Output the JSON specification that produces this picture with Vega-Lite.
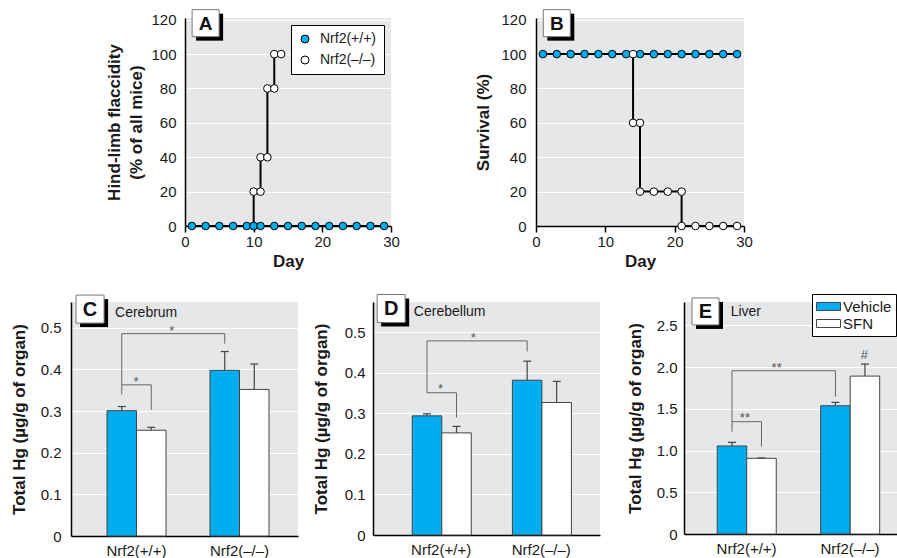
{
  "$schema": "https://vega.github.io/schema/vega-lite/v6.json",
  "padding": {"left": 10, "top": 7, "right": 0, "bottom": 0},
  "config": {
    "font": "Liberation Sans, Arial, sans-serif",
    "view": {"stroke": null, "fill": "#e6e7e9"},
    "axis": {
      "labelFont": "Liberation Sans, Arial, sans-serif",
      "titleFont": "Liberation Sans, Arial, sans-serif",
      "labelFontSize": 15, "titleFontSize": 17, "titleFontWeight": "bold",
      "labelColor": "#1a1a1a", "titleColor": "#1a1a1a",
      "domainColor": "#000000", "domainWidth": 1.5,
      "gridColor": "#ffffff", "gridWidth": 1.2,
      "ticks": false, "labelFlush": false, "labelOverlap": false
    },
    "axisX": {"grid": false},
    "legend": {"labelFont": "Liberation Sans, Arial, sans-serif", "labelFontSize": 14, "labelColor": "#1a1a1a"},
    "text": {"font": "Liberation Sans, Arial, sans-serif"}
  },
  "datasets": {
    "curves": [
      {"panel": "A", "genotype": "Nrf2(+/+)", "seq": 1, "day": 1, "pct": 0},
      {"panel": "A", "genotype": "Nrf2(+/+)", "seq": 2, "day": 3, "pct": 0},
      {"panel": "A", "genotype": "Nrf2(+/+)", "seq": 3, "day": 5, "pct": 0},
      {"panel": "A", "genotype": "Nrf2(+/+)", "seq": 4, "day": 7, "pct": 0},
      {"panel": "A", "genotype": "Nrf2(+/+)", "seq": 5, "day": 9, "pct": 0},
      {"panel": "A", "genotype": "Nrf2(+/+)", "seq": 6, "day": 10, "pct": 0},
      {"panel": "A", "genotype": "Nrf2(+/+)", "seq": 7, "day": 11, "pct": 0},
      {"panel": "A", "genotype": "Nrf2(+/+)", "seq": 8, "day": 13, "pct": 0},
      {"panel": "A", "genotype": "Nrf2(+/+)", "seq": 9, "day": 15, "pct": 0},
      {"panel": "A", "genotype": "Nrf2(+/+)", "seq": 10, "day": 17, "pct": 0},
      {"panel": "A", "genotype": "Nrf2(+/+)", "seq": 11, "day": 19, "pct": 0},
      {"panel": "A", "genotype": "Nrf2(+/+)", "seq": 12, "day": 21, "pct": 0},
      {"panel": "A", "genotype": "Nrf2(+/+)", "seq": 13, "day": 23, "pct": 0},
      {"panel": "A", "genotype": "Nrf2(+/+)", "seq": 14, "day": 25, "pct": 0},
      {"panel": "A", "genotype": "Nrf2(+/+)", "seq": 15, "day": 27, "pct": 0},
      {"panel": "A", "genotype": "Nrf2(+/+)", "seq": 16, "day": 29, "pct": 0},
      {"panel": "A", "genotype": "Nrf2(–/–)", "seq": 1, "day": 10, "pct": 0},
      {"panel": "A", "genotype": "Nrf2(–/–)", "seq": 2, "day": 10, "pct": 20},
      {"panel": "A", "genotype": "Nrf2(–/–)", "seq": 3, "day": 11, "pct": 20},
      {"panel": "A", "genotype": "Nrf2(–/–)", "seq": 4, "day": 11, "pct": 40},
      {"panel": "A", "genotype": "Nrf2(–/–)", "seq": 5, "day": 12, "pct": 40},
      {"panel": "A", "genotype": "Nrf2(–/–)", "seq": 6, "day": 12, "pct": 80},
      {"panel": "A", "genotype": "Nrf2(–/–)", "seq": 7, "day": 13, "pct": 80},
      {"panel": "A", "genotype": "Nrf2(–/–)", "seq": 8, "day": 13, "pct": 100},
      {"panel": "A", "genotype": "Nrf2(–/–)", "seq": 9, "day": 14, "pct": 100},
      {"panel": "B", "genotype": "Nrf2(+/+)", "seq": 1, "day": 1, "pct": 100},
      {"panel": "B", "genotype": "Nrf2(+/+)", "seq": 2, "day": 3, "pct": 100},
      {"panel": "B", "genotype": "Nrf2(+/+)", "seq": 3, "day": 5, "pct": 100},
      {"panel": "B", "genotype": "Nrf2(+/+)", "seq": 4, "day": 7, "pct": 100},
      {"panel": "B", "genotype": "Nrf2(+/+)", "seq": 5, "day": 9, "pct": 100},
      {"panel": "B", "genotype": "Nrf2(+/+)", "seq": 6, "day": 11, "pct": 100},
      {"panel": "B", "genotype": "Nrf2(+/+)", "seq": 7, "day": 13, "pct": 100},
      {"panel": "B", "genotype": "Nrf2(+/+)", "seq": 8, "day": 15, "pct": 100},
      {"panel": "B", "genotype": "Nrf2(+/+)", "seq": 9, "day": 17, "pct": 100},
      {"panel": "B", "genotype": "Nrf2(+/+)", "seq": 10, "day": 19, "pct": 100},
      {"panel": "B", "genotype": "Nrf2(+/+)", "seq": 11, "day": 21, "pct": 100},
      {"panel": "B", "genotype": "Nrf2(+/+)", "seq": 12, "day": 23, "pct": 100},
      {"panel": "B", "genotype": "Nrf2(+/+)", "seq": 13, "day": 25, "pct": 100},
      {"panel": "B", "genotype": "Nrf2(+/+)", "seq": 14, "day": 27, "pct": 100},
      {"panel": "B", "genotype": "Nrf2(+/+)", "seq": 15, "day": 29, "pct": 100},
      {"panel": "B", "genotype": "Nrf2(–/–)", "seq": 1, "day": 14, "pct": 100},
      {"panel": "B", "genotype": "Nrf2(–/–)", "seq": 2, "day": 14, "pct": 60},
      {"panel": "B", "genotype": "Nrf2(–/–)", "seq": 3, "day": 15, "pct": 60},
      {"panel": "B", "genotype": "Nrf2(–/–)", "seq": 4, "day": 15, "pct": 20},
      {"panel": "B", "genotype": "Nrf2(–/–)", "seq": 5, "day": 17, "pct": 20},
      {"panel": "B", "genotype": "Nrf2(–/–)", "seq": 6, "day": 19, "pct": 20},
      {"panel": "B", "genotype": "Nrf2(–/–)", "seq": 7, "day": 21, "pct": 20},
      {"panel": "B", "genotype": "Nrf2(–/–)", "seq": 8, "day": 21, "pct": 0},
      {"panel": "B", "genotype": "Nrf2(–/–)", "seq": 9, "day": 23, "pct": 0},
      {"panel": "B", "genotype": "Nrf2(–/–)", "seq": 10, "day": 25, "pct": 0},
      {"panel": "B", "genotype": "Nrf2(–/–)", "seq": 11, "day": 27, "pct": 0},
      {"panel": "B", "genotype": "Nrf2(–/–)", "seq": 12, "day": 29, "pct": 0}
    ],
    "hg": [
      {"panel": "C", "genotype": "Nrf2(+/+)", "treatment": "Vehicle", "mean": 0.301, "upper": 0.311},
      {"panel": "C", "genotype": "Nrf2(+/+)", "treatment": "SFN", "mean": 0.254, "upper": 0.261},
      {"panel": "C", "genotype": "Nrf2(–/–)", "treatment": "Vehicle", "mean": 0.398, "upper": 0.443},
      {"panel": "C", "genotype": "Nrf2(–/–)", "treatment": "SFN", "mean": 0.352, "upper": 0.413},
      {"panel": "D", "genotype": "Nrf2(+/+)", "treatment": "Vehicle", "mean": 0.294, "upper": 0.299},
      {"panel": "D", "genotype": "Nrf2(+/+)", "treatment": "SFN", "mean": 0.252, "upper": 0.268},
      {"panel": "D", "genotype": "Nrf2(–/–)", "treatment": "Vehicle", "mean": 0.382, "upper": 0.429},
      {"panel": "D", "genotype": "Nrf2(–/–)", "treatment": "SFN", "mean": 0.327, "upper": 0.379},
      {"panel": "E", "genotype": "Nrf2(+/+)", "treatment": "Vehicle", "mean": 1.055, "upper": 1.098},
      {"panel": "E", "genotype": "Nrf2(+/+)", "treatment": "SFN", "mean": 0.907, "upper": 0.911},
      {"panel": "E", "genotype": "Nrf2(–/–)", "treatment": "Vehicle", "mean": 1.537, "upper": 1.577},
      {"panel": "E", "genotype": "Nrf2(–/–)", "treatment": "SFN", "mean": 1.892, "upper": 2.036}
    ],
    "brackets": [
      {"panel": "C", "bracket": "big", "seq": 1, "genotype": "Nrf2(+/+)", "treatment": "Vehicle", "value": 0.340},
      {"panel": "C", "bracket": "big", "seq": 2, "genotype": "Nrf2(+/+)", "treatment": "Vehicle", "value": 0.486},
      {"panel": "C", "bracket": "big", "seq": 3, "genotype": "Nrf2(–/–)", "treatment": "Vehicle", "value": 0.486},
      {"panel": "C", "bracket": "big", "seq": 4, "genotype": "Nrf2(–/–)", "treatment": "Vehicle", "value": 0.462},
      {"panel": "C", "bracket": "small", "seq": 1, "genotype": "Nrf2(+/+)", "treatment": "Vehicle", "value": 0.363},
      {"panel": "C", "bracket": "small", "seq": 2, "genotype": "Nrf2(+/+)", "treatment": "SFN", "value": 0.363},
      {"panel": "C", "bracket": "small", "seq": 3, "genotype": "Nrf2(+/+)", "treatment": "SFN", "value": 0.303},
      {"panel": "D", "bracket": "big", "seq": 1, "genotype": "Nrf2(+/+)", "treatment": "Vehicle", "value": 0.351},
      {"panel": "D", "bracket": "big", "seq": 2, "genotype": "Nrf2(+/+)", "treatment": "Vehicle", "value": 0.479},
      {"panel": "D", "bracket": "big", "seq": 3, "genotype": "Nrf2(–/–)", "treatment": "Vehicle", "value": 0.479},
      {"panel": "D", "bracket": "big", "seq": 4, "genotype": "Nrf2(–/–)", "treatment": "Vehicle", "value": 0.453},
      {"panel": "D", "bracket": "small", "seq": 1, "genotype": "Nrf2(+/+)", "treatment": "Vehicle", "value": 0.351},
      {"panel": "D", "bracket": "small", "seq": 2, "genotype": "Nrf2(+/+)", "treatment": "SFN", "value": 0.351},
      {"panel": "D", "bracket": "small", "seq": 3, "genotype": "Nrf2(+/+)", "treatment": "SFN", "value": 0.290},
      {"panel": "E", "bracket": "big", "seq": 1, "genotype": "Nrf2(+/+)", "treatment": "Vehicle", "value": 1.226},
      {"panel": "E", "bracket": "big", "seq": 2, "genotype": "Nrf2(+/+)", "treatment": "Vehicle", "value": 1.956},
      {"panel": "E", "bracket": "big", "seq": 3, "genotype": "Nrf2(–/–)", "treatment": "Vehicle", "value": 1.956},
      {"panel": "E", "bracket": "big", "seq": 4, "genotype": "Nrf2(–/–)", "treatment": "Vehicle", "value": 1.645},
      {"panel": "E", "bracket": "small", "seq": 1, "genotype": "Nrf2(+/+)", "treatment": "Vehicle", "value": 1.346},
      {"panel": "E", "bracket": "small", "seq": 2, "genotype": "Nrf2(+/+)", "treatment": "SFN", "value": 1.346},
      {"panel": "E", "bracket": "small", "seq": 3, "genotype": "Nrf2(+/+)", "treatment": "SFN", "value": 1.047}
    ],
    "notes": [
      {"panel": "C", "kind": "box", "text": "C", "fx": 0.084, "y": 0.545},
      {"panel": "C", "kind": "name", "text": "Cerebrum", "fx": 0.194, "y": 0.535},
      {"panel": "C", "kind": "sig", "text": "*", "fx": 0.4436, "y": 0.493},
      {"panel": "C", "kind": "sig", "text": "*", "fx": 0.2863, "y": 0.370},
      {"panel": "D", "kind": "box", "text": "D", "fx": 0.080, "y": 0.559},
      {"panel": "D", "kind": "name", "text": "Cerebellum", "fx": 0.180, "y": 0.551},
      {"panel": "D", "kind": "sig", "text": "*", "fx": 0.4415, "y": 0.486},
      {"panel": "D", "kind": "sig", "text": "*", "fx": 0.2977, "y": 0.361},
      {"panel": "E", "kind": "box", "text": "E", "fx": 0.101, "y": 2.667},
      {"panel": "E", "kind": "name", "text": "Liver", "fx": 0.219, "y": 2.66},
      {"panel": "E", "kind": "sig", "text": "**", "fx": 0.435, "y": 1.995},
      {"panel": "E", "kind": "sig", "text": "**", "fx": 0.286, "y": 1.39},
      {"panel": "E", "kind": "sig", "text": "#", "fx": 0.8465, "y": 2.14}
    ]
  },
  "spacing": 23,
  "resolve": {"scale": {"fill": "independent"}, "legend": {"fill": "independent"}},
  "vconcat": [
    {
      "spacing": 33,
      "resolve": {"scale": {"fill": "independent"}, "legend": {"fill": "independent"}},
      "hconcat": [
        {
          "width": 1, "height": 10,
          "view": {"fill": null, "stroke": null},
          "data": {"values": [{"blank": ""}]},
          "mark": {"type": "text", "opacity": 0},
          "encoding": {"text": {"field": "blank"}}
        },
        {
          "spacing": 74,
          "resolve": {"scale": {"fill": "independent"}, "legend": {"fill": "independent"}},
          "hconcat": [
            {
              "width": 206, "height": 208,
              "layer": [
                {
                  "data": {"name": "curves"},
                  "transform": [{"filter": "datum.panel == 'A'"}],
                  "mark": {"type": "line", "color": "#000", "strokeWidth": 2},
                  "encoding": {
                    "x": {"field": "day", "type": "quantitative", "scale": {"domain": [0, 30], "nice": false}, "axis": {"values": [0, 10, 20, 30], "ticks": true, "tickSize": 6, "tickColor": "#000", "tickWidth": 1.5, "labelPadding": 2, "title": "Day", "titlePadding": 4}},
                    "y": {"field": "pct", "type": "quantitative", "scale": {"domain": [0, 121], "nice": false}, "axis": {"values": [0, 20, 40, 60, 80, 100, 120], "title": ["Hind-limb flaccidity", "(% of all mice)"], "labelPadding": 9, "titlePadding": 5, "titleLineHeight": 22}},
                    "detail": {"field": "genotype"}, "order": {"field": "seq"}
                  }
                },
                {
                  "data": {"name": "curves"},
                  "transform": [{"filter": "datum.panel == 'A' && datum.genotype == 'Nrf2(–/–)'"}],
                  "mark": {"type": "point", "filled": true, "size": 58, "stroke": "#000", "strokeWidth": 1, "opacity": 1},
                  "encoding": {
                    "x": {"field": "day", "type": "quantitative", "scale": {"domain": [0, 30], "nice": false}, "axis": {"values": [0, 10, 20, 30], "ticks": true, "tickSize": 6, "tickColor": "#000", "tickWidth": 1.5, "labelPadding": 2, "title": "Day", "titlePadding": 4}},
                    "y": {"field": "pct", "type": "quantitative", "scale": {"domain": [0, 121], "nice": false}, "axis": {"values": [0, 20, 40, 60, 80, 100, 120], "title": ["Hind-limb flaccidity", "(% of all mice)"], "labelPadding": 9, "titlePadding": 5, "titleLineHeight": 22}},
                    "fill": {"field": "genotype", "type": "nominal", "scale": {"domain": ["Nrf2(+/+)", "Nrf2(–/–)"], "range": ["#00AEEF", "#ffffff"]},
                      "legend": {"orient": "top-right", "offset": 7, "title": null, "fillColor": "#ffffff", "strokeColor": "#000", "padding": 7, "labelFontSize": 14, "symbolSize": 64, "symbolType": "circle", "symbolStrokeColor": "#000", "symbolStrokeWidth": 1, "rowPadding": 7, "labelOffset": 8}}
                  }
                },
                {
                  "data": {"name": "curves"},
                  "transform": [{"filter": "datum.panel == 'A' && datum.genotype == 'Nrf2(+/+)'"}],
                  "mark": {"type": "point", "filled": true, "size": 58, "stroke": "#000", "strokeWidth": 1, "opacity": 1},
                  "encoding": {
                    "x": {"field": "day", "type": "quantitative", "scale": {"domain": [0, 30], "nice": false}, "axis": {"values": [0, 10, 20, 30], "ticks": true, "tickSize": 6, "tickColor": "#000", "tickWidth": 1.5, "labelPadding": 2, "title": "Day", "titlePadding": 4}},
                    "y": {"field": "pct", "type": "quantitative", "scale": {"domain": [0, 121], "nice": false}, "axis": {"values": [0, 20, 40, 60, 80, 100, 120], "title": ["Hind-limb flaccidity", "(% of all mice)"], "labelPadding": 9, "titlePadding": 5, "titleLineHeight": 22}},
                    "fill": {"field": "genotype", "type": "nominal", "scale": {"domain": ["Nrf2(+/+)", "Nrf2(–/–)"], "range": ["#00AEEF", "#ffffff"]},
                      "legend": {"orient": "top-right", "offset": 7, "title": null, "fillColor": "#ffffff", "strokeColor": "#000", "padding": 7, "labelFontSize": 14, "symbolSize": 64, "symbolType": "circle", "symbolStrokeColor": "#000", "symbolStrokeWidth": 1, "rowPadding": 7, "labelOffset": 8}}
                  }
                },
                {
                  "data": {"values": [{"text": "A"}]},
                  "mark": {"type": "point", "shape": "square", "size": 729, "filled": true, "fill": "#000", "opacity": 1, "xOffset": 4, "yOffset": 4},
                  "encoding": {
                    "x": {"datum": 3, "type": "quantitative", "scale": {"domain": [0, 30], "nice": false}, "axis": {"values": [0, 10, 20, 30], "ticks": true, "tickSize": 6, "tickColor": "#000", "tickWidth": 1.5, "labelPadding": 2, "title": "Day", "titlePadding": 4}},
                    "y": {"datum": 118, "type": "quantitative", "scale": {"domain": [0, 121], "nice": false}, "axis": {"values": [0, 20, 40, 60, 80, 100, 120], "title": ["Hind-limb flaccidity", "(% of all mice)"], "labelPadding": 9, "titlePadding": 5, "titleLineHeight": 22}}
                  }
                },
                {
                  "data": {"values": [{"text": "A"}]},
                  "mark": {"type": "point", "shape": "square", "size": 729, "filled": true, "fill": "#fff", "stroke": "#777", "strokeWidth": 1, "opacity": 1},
                  "encoding": {
                    "x": {"datum": 3, "type": "quantitative", "scale": {"domain": [0, 30], "nice": false}, "axis": {"values": [0, 10, 20, 30], "ticks": true, "tickSize": 6, "tickColor": "#000", "tickWidth": 1.5, "labelPadding": 2, "title": "Day", "titlePadding": 4}},
                    "y": {"datum": 118, "type": "quantitative", "scale": {"domain": [0, 121], "nice": false}, "axis": {"values": [0, 20, 40, 60, 80, 100, 120], "title": ["Hind-limb flaccidity", "(% of all mice)"], "labelPadding": 9, "titlePadding": 5, "titleLineHeight": 22}}
                  }
                },
                {
                  "data": {"values": [{"text": "A"}]},
                  "mark": {"type": "text", "fontSize": 19, "fontWeight": "bold", "color": "#111", "baseline": "middle", "align": "center", "dy": 1},
                  "encoding": {
                    "x": {"datum": 3, "type": "quantitative", "scale": {"domain": [0, 30], "nice": false}, "axis": {"values": [0, 10, 20, 30], "ticks": true, "tickSize": 6, "tickColor": "#000", "tickWidth": 1.5, "labelPadding": 2, "title": "Day", "titlePadding": 4}},
                    "y": {"datum": 118, "type": "quantitative", "scale": {"domain": [0, 121], "nice": false}, "axis": {"values": [0, 20, 40, 60, 80, 100, 120], "title": ["Hind-limb flaccidity", "(% of all mice)"], "labelPadding": 9, "titlePadding": 5, "titleLineHeight": 22}},
                    "text": {"field": "text"}
                  }
                }
              ]
            },
            {
              "width": 208, "height": 208,
              "layer": [
                {
                  "data": {"name": "curves"},
                  "transform": [{"filter": "datum.panel == 'B'"}],
                  "mark": {"type": "line", "color": "#000", "strokeWidth": 2},
                  "encoding": {
                    "x": {"field": "day", "type": "quantitative", "scale": {"domain": [0, 30], "nice": false}, "axis": {"values": [0, 10, 20, 30], "ticks": true, "tickSize": 6, "tickColor": "#000", "tickWidth": 1.5, "labelPadding": 2, "title": "Day", "titlePadding": 4}},
                    "y": {"field": "pct", "type": "quantitative", "scale": {"domain": [0, 121], "nice": false}, "axis": {"values": [0, 20, 40, 60, 80, 100, 120], "title": "Survival (%)", "labelPadding": 10, "titlePadding": 8}},
                    "detail": {"field": "genotype"}, "order": {"field": "seq"}
                  }
                },
                {
                  "data": {"name": "curves"},
                  "transform": [{"filter": "datum.panel == 'B' && datum.genotype == 'Nrf2(+/+)'"}],
                  "mark": {"type": "point", "filled": true, "size": 58, "stroke": "#000", "strokeWidth": 1, "opacity": 1},
                  "encoding": {
                    "x": {"field": "day", "type": "quantitative", "scale": {"domain": [0, 30], "nice": false}, "axis": {"values": [0, 10, 20, 30], "ticks": true, "tickSize": 6, "tickColor": "#000", "tickWidth": 1.5, "labelPadding": 2, "title": "Day", "titlePadding": 4}},
                    "y": {"field": "pct", "type": "quantitative", "scale": {"domain": [0, 121], "nice": false}, "axis": {"values": [0, 20, 40, 60, 80, 100, 120], "title": "Survival (%)", "labelPadding": 10, "titlePadding": 8}},
                    "fill": {"field": "genotype", "type": "nominal", "scale": {"domain": ["Nrf2(+/+)", "Nrf2(–/–)"], "range": ["#00AEEF", "#ffffff"]}, "legend": null}
                  }
                },
                {
                  "data": {"name": "curves"},
                  "transform": [{"filter": "datum.panel == 'B' && datum.genotype == 'Nrf2(–/–)'"}],
                  "mark": {"type": "point", "filled": true, "size": 58, "stroke": "#000", "strokeWidth": 1, "opacity": 1},
                  "encoding": {
                    "x": {"field": "day", "type": "quantitative", "scale": {"domain": [0, 30], "nice": false}, "axis": {"values": [0, 10, 20, 30], "ticks": true, "tickSize": 6, "tickColor": "#000", "tickWidth": 1.5, "labelPadding": 2, "title": "Day", "titlePadding": 4}},
                    "y": {"field": "pct", "type": "quantitative", "scale": {"domain": [0, 121], "nice": false}, "axis": {"values": [0, 20, 40, 60, 80, 100, 120], "title": "Survival (%)", "labelPadding": 10, "titlePadding": 8}},
                    "fill": {"field": "genotype", "type": "nominal", "scale": {"domain": ["Nrf2(+/+)", "Nrf2(–/–)"], "range": ["#00AEEF", "#ffffff"]}, "legend": null}
                  }
                },
                {
                  "data": {"values": [{"text": "B"}]},
                  "mark": {"type": "point", "shape": "square", "size": 729, "filled": true, "fill": "#000", "opacity": 1, "xOffset": 4, "yOffset": 4},
                  "encoding": {
                    "x": {"datum": 3, "type": "quantitative", "scale": {"domain": [0, 30], "nice": false}, "axis": {"values": [0, 10, 20, 30], "ticks": true, "tickSize": 6, "tickColor": "#000", "tickWidth": 1.5, "labelPadding": 2, "title": "Day", "titlePadding": 4}},
                    "y": {"datum": 118, "type": "quantitative", "scale": {"domain": [0, 121], "nice": false}, "axis": {"values": [0, 20, 40, 60, 80, 100, 120], "title": "Survival (%)", "labelPadding": 10, "titlePadding": 8}}
                  }
                },
                {
                  "data": {"values": [{"text": "B"}]},
                  "mark": {"type": "point", "shape": "square", "size": 729, "filled": true, "fill": "#fff", "stroke": "#777", "strokeWidth": 1, "opacity": 1},
                  "encoding": {
                    "x": {"datum": 3, "type": "quantitative", "scale": {"domain": [0, 30], "nice": false}, "axis": {"values": [0, 10, 20, 30], "ticks": true, "tickSize": 6, "tickColor": "#000", "tickWidth": 1.5, "labelPadding": 2, "title": "Day", "titlePadding": 4}},
                    "y": {"datum": 118, "type": "quantitative", "scale": {"domain": [0, 121], "nice": false}, "axis": {"values": [0, 20, 40, 60, 80, 100, 120], "title": "Survival (%)", "labelPadding": 10, "titlePadding": 8}}
                  }
                },
                {
                  "data": {"values": [{"text": "B"}]},
                  "mark": {"type": "text", "fontSize": 19, "fontWeight": "bold", "color": "#111", "baseline": "middle", "align": "center", "dy": 1},
                  "encoding": {
                    "x": {"datum": 3, "type": "quantitative", "scale": {"domain": [0, 30], "nice": false}, "axis": {"values": [0, 10, 20, 30], "ticks": true, "tickSize": 6, "tickColor": "#000", "tickWidth": 1.5, "labelPadding": 2, "title": "Day", "titlePadding": 4}},
                    "y": {"datum": 118, "type": "quantitative", "scale": {"domain": [0, 121], "nice": false}, "axis": {"values": [0, 20, 40, 60, 80, 100, 120], "title": "Survival (%)", "labelPadding": 10, "titlePadding": 8}},
                    "text": {"field": "text"}
                  }
                }
              ]
            }
          ]
        }
      ]
    },
    {
      "spacing": 26,
      "resolve": {"scale": {"fill": "independent"}, "legend": {"fill": "independent"}},
      "hconcat": [
        {
          "spacing": 14,
          "resolve": {"scale": {"fill": "independent"}, "legend": {"fill": "independent"}},
          "hconcat": [
            {
              "width": 227, "height": 234,
              "resolve": {"scale": {"x": "independent"}},
              "layer": [
                {
                  "data": {"name": "hg"},
                  "transform": [{"filter": "datum.panel == 'C'"}],
                  "mark": {"type": "bar", "stroke": "#444", "strokeWidth": 1},
                  "encoding": {
                    "x": {"field": "genotype", "type": "nominal", "scale": {"domain": ["Nrf2(+/+)", "Nrf2(–/–)"], "paddingInner": 0.427, "paddingOuter": 0.3155, "align": 0.554}, "axis": {"title": null, "labelAngle": 0, "labelPadding": 7, "domain": true}},
                    "xOffset": {"field": "treatment", "type": "nominal", "scale": {"domain": ["Vehicle", "SFN"], "paddingInner": 0, "paddingOuter": 0}},
                    "y": {"field": "mean", "type": "quantitative", "scale": {"domain": [0, 0.562], "nice": false}, "axis": {"values": [0, 0.1, 0.2, 0.3, 0.4, 0.5], "labelExpr": "datum.value == 0 ? '0' : format(datum.value, '.1f')", "title": "Total Hg (µg/g of organ)", "labelPadding": 10, "titlePadding": 12}},
                    "fill": {"field": "treatment", "type": "nominal", "scale": {"domain": ["Vehicle", "SFN"], "range": ["#00AEEF", "#ffffff"]}, "legend": null}
                  }
                },
                {
                  "data": {"name": "hg"},
                  "transform": [{"filter": "datum.panel == 'C'"}],
                  "mark": {"type": "rule", "color": "#444", "strokeWidth": 1.2},
                  "encoding": {
                    "x": {"field": "genotype", "type": "nominal", "scale": {"domain": ["Nrf2(+/+)", "Nrf2(–/–)"], "paddingInner": 0.427, "paddingOuter": 0.3155, "align": 0.554}, "axis": null},
                    "xOffset": {"field": "treatment", "type": "nominal", "scale": {"domain": ["Vehicle", "SFN"], "paddingInner": 0, "paddingOuter": 0}},
                    "y": {"field": "mean", "type": "quantitative", "scale": {"domain": [0, 0.562], "nice": false}, "axis": {"values": [0, 0.1, 0.2, 0.3, 0.4, 0.5], "labelExpr": "datum.value == 0 ? '0' : format(datum.value, '.1f')", "title": "Total Hg (µg/g of organ)", "labelPadding": 10, "titlePadding": 12}},
                    "y2": {"field": "upper"}
                  }
                },
                {
                  "data": {"name": "hg"},
                  "transform": [{"filter": "datum.panel == 'C'"}],
                  "mark": {"type": "tick", "color": "#444", "size": 8, "thickness": 1.2, "opacity": 1},
                  "encoding": {
                    "x": {"field": "genotype", "type": "nominal", "scale": {"domain": ["Nrf2(+/+)", "Nrf2(–/–)"], "paddingInner": 0.427, "paddingOuter": 0.3155, "align": 0.554}, "axis": null},
                    "xOffset": {"field": "treatment", "type": "nominal", "scale": {"domain": ["Vehicle", "SFN"], "paddingInner": 0, "paddingOuter": 0}},
                    "y": {"field": "upper", "type": "quantitative", "scale": {"domain": [0, 0.562], "nice": false}, "axis": {"values": [0, 0.1, 0.2, 0.3, 0.4, 0.5], "labelExpr": "datum.value == 0 ? '0' : format(datum.value, '.1f')", "title": "Total Hg (µg/g of organ)", "labelPadding": 10, "titlePadding": 12}}
                  }
                },
                {
                  "data": {"name": "brackets"},
                  "transform": [{"filter": "datum.panel == 'C'"}],
                  "mark": {"type": "line", "color": "#666", "strokeWidth": 1},
                  "encoding": {
                    "x": {"field": "genotype", "type": "nominal", "scale": {"domain": ["Nrf2(+/+)", "Nrf2(–/–)"], "paddingInner": 0.427, "paddingOuter": 0.3155, "align": 0.554}, "axis": null},
                    "xOffset": {"field": "treatment", "type": "nominal", "scale": {"domain": ["Vehicle", "SFN"], "paddingInner": 0, "paddingOuter": 0}},
                    "y": {"field": "value", "type": "quantitative", "scale": {"domain": [0, 0.562], "nice": false}, "axis": {"values": [0, 0.1, 0.2, 0.3, 0.4, 0.5], "labelExpr": "datum.value == 0 ? '0' : format(datum.value, '.1f')", "title": "Total Hg (µg/g of organ)", "labelPadding": 10, "titlePadding": 12}},
                    "detail": {"field": "bracket"}, "order": {"field": "seq"}
                  }
                },
                {
                  "data": {"name": "notes"},
                  "transform": [{"filter": "datum.panel == 'C'"}],
                  "encoding": {
                    "x": {"field": "fx", "type": "quantitative", "scale": {"domain": [0, 1], "nice": false}, "axis": null},
                    "y": {"field": "y", "type": "quantitative", "scale": {"domain": [0, 0.562], "nice": false}, "axis": {"values": [0, 0.1, 0.2, 0.3, 0.4, 0.5], "labelExpr": "datum.value == 0 ? '0' : format(datum.value, '.1f')", "title": "Total Hg (µg/g of organ)", "labelPadding": 10, "titlePadding": 12}}
                  },
                  "layer": [
                    {"transform": [{"filter": "datum.kind == 'box'"}], "mark": {"type": "point", "shape": "square", "size": 784, "filled": true, "fill": "#000", "opacity": 1, "xOffset": 4, "yOffset": 4}},
                    {"transform": [{"filter": "datum.kind == 'box'"}], "mark": {"type": "point", "shape": "square", "size": 784, "filled": true, "fill": "#fff", "stroke": "#777", "strokeWidth": 1, "opacity": 1}},
                    {"transform": [{"filter": "datum.kind == 'box'"}], "mark": {"type": "text", "fontSize": 20, "fontWeight": "bold", "color": "#111", "dy": 1}, "encoding": {"text": {"field": "text"}}},
                    {"transform": [{"filter": "datum.kind == 'name'"}], "mark": {"type": "text", "fontSize": 14, "align": "left", "color": "#1a1a1a"}, "encoding": {"text": {"field": "text"}}},
                    {"transform": [{"filter": "datum.kind == 'sig'"}], "mark": {"type": "text", "fontSize": 13, "align": "center", "color": "#555"}, "encoding": {"text": {"field": "text"}}}
                  ]
                }
              ]
            },
            {
              "width": 227, "height": 233,
              "resolve": {"scale": {"x": "independent"}},
              "layer": [
                {
                  "data": {"name": "hg"},
                  "transform": [{"filter": "datum.panel == 'D'"}],
                  "mark": {"type": "bar", "stroke": "#444", "strokeWidth": 1},
                  "encoding": {
                    "x": {"field": "genotype", "type": "nominal", "scale": {"domain": ["Nrf2(+/+)", "Nrf2(–/–)"], "paddingInner": 0.4235, "paddingOuter": 0.345, "align": 0.568}, "axis": {"title": null, "labelAngle": 0, "labelPadding": 7, "domain": true}},
                    "xOffset": {"field": "treatment", "type": "nominal", "scale": {"domain": ["Vehicle", "SFN"], "paddingInner": 0, "paddingOuter": 0}},
                    "y": {"field": "mean", "type": "quantitative", "scale": {"domain": [0, 0.575], "nice": false}, "axis": {"values": [0, 0.1, 0.2, 0.3, 0.4, 0.5], "labelExpr": "datum.value == 0 ? '0' : format(datum.value, '.1f')", "title": "Total Hg (µg/g of organ)", "labelPadding": 8, "titlePadding": 14}},
                    "fill": {"field": "treatment", "type": "nominal", "scale": {"domain": ["Vehicle", "SFN"], "range": ["#00AEEF", "#ffffff"]}, "legend": null}
                  }
                },
                {
                  "data": {"name": "hg"},
                  "transform": [{"filter": "datum.panel == 'D'"}],
                  "mark": {"type": "rule", "color": "#444", "strokeWidth": 1.2},
                  "encoding": {
                    "x": {"field": "genotype", "type": "nominal", "scale": {"domain": ["Nrf2(+/+)", "Nrf2(–/–)"], "paddingInner": 0.4235, "paddingOuter": 0.345, "align": 0.568}, "axis": null},
                    "xOffset": {"field": "treatment", "type": "nominal", "scale": {"domain": ["Vehicle", "SFN"], "paddingInner": 0, "paddingOuter": 0}},
                    "y": {"field": "mean", "type": "quantitative", "scale": {"domain": [0, 0.575], "nice": false}, "axis": {"values": [0, 0.1, 0.2, 0.3, 0.4, 0.5], "labelExpr": "datum.value == 0 ? '0' : format(datum.value, '.1f')", "title": "Total Hg (µg/g of organ)", "labelPadding": 8, "titlePadding": 14}},
                    "y2": {"field": "upper"}
                  }
                },
                {
                  "data": {"name": "hg"},
                  "transform": [{"filter": "datum.panel == 'D'"}],
                  "mark": {"type": "tick", "color": "#444", "size": 8, "thickness": 1.2, "opacity": 1},
                  "encoding": {
                    "x": {"field": "genotype", "type": "nominal", "scale": {"domain": ["Nrf2(+/+)", "Nrf2(–/–)"], "paddingInner": 0.4235, "paddingOuter": 0.345, "align": 0.568}, "axis": null},
                    "xOffset": {"field": "treatment", "type": "nominal", "scale": {"domain": ["Vehicle", "SFN"], "paddingInner": 0, "paddingOuter": 0}},
                    "y": {"field": "upper", "type": "quantitative", "scale": {"domain": [0, 0.575], "nice": false}, "axis": {"values": [0, 0.1, 0.2, 0.3, 0.4, 0.5], "labelExpr": "datum.value == 0 ? '0' : format(datum.value, '.1f')", "title": "Total Hg (µg/g of organ)", "labelPadding": 8, "titlePadding": 14}}
                  }
                },
                {
                  "data": {"name": "brackets"},
                  "transform": [{"filter": "datum.panel == 'D'"}],
                  "mark": {"type": "line", "color": "#666", "strokeWidth": 1},
                  "encoding": {
                    "x": {"field": "genotype", "type": "nominal", "scale": {"domain": ["Nrf2(+/+)", "Nrf2(–/–)"], "paddingInner": 0.4235, "paddingOuter": 0.345, "align": 0.568}, "axis": null},
                    "xOffset": {"field": "treatment", "type": "nominal", "scale": {"domain": ["Vehicle", "SFN"], "paddingInner": 0, "paddingOuter": 0}},
                    "y": {"field": "value", "type": "quantitative", "scale": {"domain": [0, 0.575], "nice": false}, "axis": {"values": [0, 0.1, 0.2, 0.3, 0.4, 0.5], "labelExpr": "datum.value == 0 ? '0' : format(datum.value, '.1f')", "title": "Total Hg (µg/g of organ)", "labelPadding": 8, "titlePadding": 14}},
                    "detail": {"field": "bracket"}, "order": {"field": "seq"}
                  }
                },
                {
                  "data": {"name": "notes"},
                  "transform": [{"filter": "datum.panel == 'D'"}],
                  "encoding": {
                    "x": {"field": "fx", "type": "quantitative", "scale": {"domain": [0, 1], "nice": false}, "axis": null},
                    "y": {"field": "y", "type": "quantitative", "scale": {"domain": [0, 0.575], "nice": false}, "axis": {"values": [0, 0.1, 0.2, 0.3, 0.4, 0.5], "labelExpr": "datum.value == 0 ? '0' : format(datum.value, '.1f')", "title": "Total Hg (µg/g of organ)", "labelPadding": 8, "titlePadding": 14}}
                  },
                  "layer": [
                    {"transform": [{"filter": "datum.kind == 'box'"}], "mark": {"type": "point", "shape": "square", "size": 784, "filled": true, "fill": "#000", "opacity": 1, "xOffset": 4, "yOffset": 4}},
                    {"transform": [{"filter": "datum.kind == 'box'"}], "mark": {"type": "point", "shape": "square", "size": 784, "filled": true, "fill": "#fff", "stroke": "#777", "strokeWidth": 1, "opacity": 1}},
                    {"transform": [{"filter": "datum.kind == 'box'"}], "mark": {"type": "text", "fontSize": 20, "fontWeight": "bold", "color": "#111", "dy": 1}, "encoding": {"text": {"field": "text"}}},
                    {"transform": [{"filter": "datum.kind == 'name'"}], "mark": {"type": "text", "fontSize": 14, "align": "left", "color": "#1a1a1a"}, "encoding": {"text": {"field": "text"}}},
                    {"transform": [{"filter": "datum.kind == 'sig'"}], "mark": {"type": "text", "fontSize": 13, "align": "center", "color": "#555"}, "encoding": {"text": {"field": "text"}}}
                  ]
                }
              ]
            }
          ]
        },
        {
          "width": 213, "height": 232,
          "resolve": {"scale": {"x": "independent"}},
          "layer": [
            {
              "data": {"name": "hg"},
              "transform": [{"filter": "datum.panel == 'E'"}],
              "mark": {"type": "bar", "stroke": "#444", "strokeWidth": 1},
              "encoding": {
                "x": {"field": "genotype", "type": "nominal", "scale": {"domain": ["Nrf2(+/+)", "Nrf2(–/–)"], "paddingInner": 0.433, "paddingOuter": 0.246, "align": 0.653}, "axis": {"title": null, "labelAngle": 0, "labelPadding": 7, "domain": true}},
                "xOffset": {"field": "treatment", "type": "nominal", "scale": {"domain": ["Vehicle", "SFN"], "paddingInner": 0, "paddingOuter": 0}},
                "y": {"field": "mean", "type": "quantitative", "scale": {"domain": [0, 2.78], "nice": false}, "axis": {"values": [0, 0.5, 1, 1.5, 2, 2.5], "labelExpr": "datum.value == 0 ? '0' : format(datum.value, '.1f')", "title": "Total Hg (µg/g of organ)", "labelPadding": 7, "titlePadding": 12}},
                "fill": {"field": "treatment", "type": "nominal", "scale": {"domain": ["Vehicle", "SFN"], "range": ["#00AEEF", "#ffffff"]},
                  "legend": {"orient": "none", "legendX": 128, "legendY": -8, "title": null, "fillColor": "#ffffff", "strokeColor": "#000", "padding": 4, "symbolType": "M-1,-0.5H2V0.5H-1Z", "symbolSize": 256, "symbolStrokeColor": "#444", "symbolStrokeWidth": 1, "labelOffset": 10, "labelFontSize": 15, "rowPadding": 0}}
              }
            },
            {
              "data": {"name": "hg"},
              "transform": [{"filter": "datum.panel == 'E'"}],
              "mark": {"type": "rule", "color": "#444", "strokeWidth": 1.2},
              "encoding": {
                "x": {"field": "genotype", "type": "nominal", "scale": {"domain": ["Nrf2(+/+)", "Nrf2(–/–)"], "paddingInner": 0.433, "paddingOuter": 0.246, "align": 0.653}, "axis": null},
                "xOffset": {"field": "treatment", "type": "nominal", "scale": {"domain": ["Vehicle", "SFN"], "paddingInner": 0, "paddingOuter": 0}},
                "y": {"field": "mean", "type": "quantitative", "scale": {"domain": [0, 2.78], "nice": false}, "axis": {"values": [0, 0.5, 1, 1.5, 2, 2.5], "labelExpr": "datum.value == 0 ? '0' : format(datum.value, '.1f')", "title": "Total Hg (µg/g of organ)", "labelPadding": 7, "titlePadding": 12}},
                "y2": {"field": "upper"}
              }
            },
            {
              "data": {"name": "hg"},
              "transform": [{"filter": "datum.panel == 'E'"}],
              "mark": {"type": "tick", "color": "#444", "size": 8, "thickness": 1.2, "opacity": 1},
              "encoding": {
                "x": {"field": "genotype", "type": "nominal", "scale": {"domain": ["Nrf2(+/+)", "Nrf2(–/–)"], "paddingInner": 0.433, "paddingOuter": 0.246, "align": 0.653}, "axis": null},
                "xOffset": {"field": "treatment", "type": "nominal", "scale": {"domain": ["Vehicle", "SFN"], "paddingInner": 0, "paddingOuter": 0}},
                "y": {"field": "upper", "type": "quantitative", "scale": {"domain": [0, 2.78], "nice": false}, "axis": {"values": [0, 0.5, 1, 1.5, 2, 2.5], "labelExpr": "datum.value == 0 ? '0' : format(datum.value, '.1f')", "title": "Total Hg (µg/g of organ)", "labelPadding": 7, "titlePadding": 12}}
              }
            },
            {
              "data": {"name": "brackets"},
              "transform": [{"filter": "datum.panel == 'E'"}],
              "mark": {"type": "line", "color": "#666", "strokeWidth": 1},
              "encoding": {
                "x": {"field": "genotype", "type": "nominal", "scale": {"domain": ["Nrf2(+/+)", "Nrf2(–/–)"], "paddingInner": 0.433, "paddingOuter": 0.246, "align": 0.653}, "axis": null},
                "xOffset": {"field": "treatment", "type": "nominal", "scale": {"domain": ["Vehicle", "SFN"], "paddingInner": 0, "paddingOuter": 0}},
                "y": {"field": "value", "type": "quantitative", "scale": {"domain": [0, 2.78], "nice": false}, "axis": {"values": [0, 0.5, 1, 1.5, 2, 2.5], "labelExpr": "datum.value == 0 ? '0' : format(datum.value, '.1f')", "title": "Total Hg (µg/g of organ)", "labelPadding": 7, "titlePadding": 12}},
                "detail": {"field": "bracket"}, "order": {"field": "seq"}
              }
            },
            {
              "data": {"name": "notes"},
              "transform": [{"filter": "datum.panel == 'E'"}],
              "encoding": {
                "x": {"field": "fx", "type": "quantitative", "scale": {"domain": [0, 1], "nice": false}, "axis": null},
                "y": {"field": "y", "type": "quantitative", "scale": {"domain": [0, 2.78], "nice": false}, "axis": {"values": [0, 0.5, 1, 1.5, 2, 2.5], "labelExpr": "datum.value == 0 ? '0' : format(datum.value, '.1f')", "title": "Total Hg (µg/g of organ)", "labelPadding": 7, "titlePadding": 12}}
              },
              "layer": [
                {"transform": [{"filter": "datum.kind == 'box'"}], "mark": {"type": "point", "shape": "square", "size": 729, "filled": true, "fill": "#000", "opacity": 1, "xOffset": 4, "yOffset": 4}},
                {"transform": [{"filter": "datum.kind == 'box'"}], "mark": {"type": "point", "shape": "square", "size": 729, "filled": true, "fill": "#fff", "stroke": "#777", "strokeWidth": 1, "opacity": 1}},
                {"transform": [{"filter": "datum.kind == 'box'"}], "mark": {"type": "text", "fontSize": 20, "fontWeight": "bold", "color": "#111", "dy": 1}, "encoding": {"text": {"field": "text"}}},
                {"transform": [{"filter": "datum.kind == 'name'"}], "mark": {"type": "text", "fontSize": 14, "align": "left", "color": "#1a1a1a"}, "encoding": {"text": {"field": "text"}}},
                {"transform": [{"filter": "datum.kind == 'sig'"}], "mark": {"type": "text", "fontSize": 13, "align": "center", "color": "#555"}, "encoding": {"text": {"field": "text"}}}
              ]
            }
          ]
        }
      ]
    }
  ]
}
